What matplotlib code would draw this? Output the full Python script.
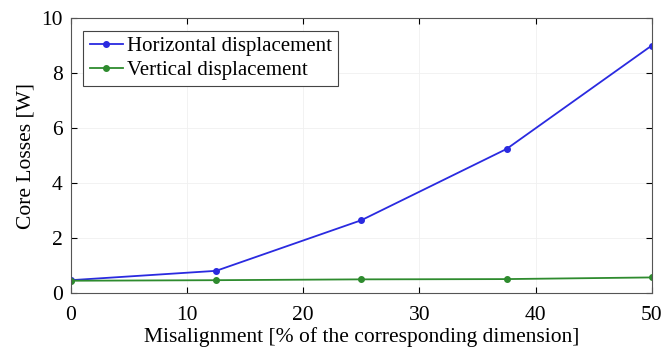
import matplotlib
matplotlib.use("Agg")
import matplotlib.pyplot as plt

# misalignment in % of the corresponding dimension
misalignment = [0, 12.5, 25, 37.5, 50]
horizontal = [0.47, 0.81, 2.65, 5.24, 9.0]
vertical = [0.45, 0.47, 0.50, 0.51, 0.57]

plt.rcParams['font.family'] = ['Liberation Serif', 'DejaVu Serif']

fig = plt.figure(figsize=(6.63, 3.54), dpi=100)
ax = fig.add_axes([0.107, 0.172, 0.876, 0.777])

ax.plot(misalignment, horizontal, '-o', color='#2a2ae0', lw=1.3, ms=4,
        label='Horizontal displacement')
ax.plot(misalignment, vertical, '-o', color='#2e8b2e', lw=1.3, ms=4,
        label='Vertical displacement')

ax.set_xlim(0, 50)
ax.set_ylim(0, 10)
ax.set_xticks([0, 10, 20, 30, 40, 50])
ax.set_yticks([0, 2, 4, 6, 8, 10])
ax.tick_params(direction='in', labelsize=15.5, length=4, top=True, right=True)
ax.tick_params(axis='x', pad=9)
ax.tick_params(axis='y', pad=6)
ax.grid(True, color='#f0f0f0', lw=0.6)
for s in ax.spines.values():
    s.set_color('#555555')
    s.set_linewidth(0.8)

ax.set_xlabel('Misalignment [% of the corresponding dimension]', fontsize=15.5, labelpad=2)
ax.set_ylabel('Core Losses [W]', fontsize=15.5, labelpad=4)

leg = ax.legend(loc='upper left', fontsize=15, fancybox=False, framealpha=1,
                edgecolor='#444444', handlelength=1.6, handletextpad=0.2,
                borderpad=0.3, labelspacing=0.2, borderaxespad=0.6)
leg.get_frame().set_linewidth(0.8)

fig.savefig('out.png', dpi=100)
